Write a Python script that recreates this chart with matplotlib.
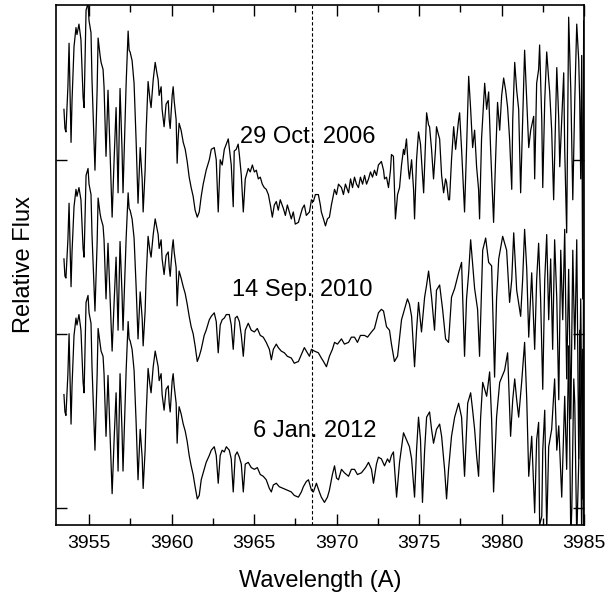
import numpy as np
import matplotlib.pyplot as plt

plt.rcParams['font.family'] = ['Liberation Sans', 'DejaVu Sans']

# blue side (3953.5 - 3961.4 A), same sampling for the three epochs
wave_blue = [3953.48, 3953.54, 3953.60, 3953.72, 3953.79, 3953.91, 3953.97, 3954.09, 3954.21, 3954.27,
             3954.39, 3954.51, 3954.64, 3954.70, 3954.82, 3954.94, 3955.00, 3955.12, 3955.18, 3955.30,
             3955.36, 3955.49, 3955.55, 3955.67, 3955.73, 3955.85, 3955.91, 3956.03, 3956.15, 3956.27,
             3956.40, 3956.52, 3956.64, 3956.76, 3956.88, 3957.00, 3957.06, 3957.19, 3957.25, 3957.37,
             3957.43, 3957.49, 3957.61, 3957.73, 3957.85, 3957.97, 3958.10, 3958.22, 3958.28, 3958.40,
             3958.46, 3958.58, 3958.70, 3958.76, 3958.89, 3959.01, 3959.13, 3959.19, 3959.25, 3959.37,
             3959.43, 3959.55, 3959.67, 3959.80, 3959.86, 3959.92, 3960.04, 3960.10, 3960.16, 3960.28,
             3960.34, 3960.40, 3960.46, 3960.58, 3960.71, 3960.83, 3960.95, 3961.07, 3961.19, 3961.31,
             3961.43]

flux_2006_blue = [0.69, 0.58, 0.56, 0.82, 1.07, 0.50, 0.74, 1.05, 1.16, 1.12,
                  1.18, 1.09, 0.76, 0.70, 1.26, 1.30, 1.20, 1.13, 0.86, 0.50,
                  0.34, 0.80, 1.10, 1.00, 0.96, 0.92, 0.82, 0.42, 0.80, 0.46,
                  0.07, 0.40, 0.70, 0.21, 0.81, 0.46, 0.21, 0.63, 0.84, 1.14,
                  1.03, 1.02, 0.97, 0.84, 0.52, 0.15, 0.47, 0.29, 0.10, 0.34,
                  0.56, 0.85, 0.74, 0.70, 0.86, 0.96, 0.89, 0.86, 0.77, 0.82,
                  0.69, 0.59, 0.72, 0.74, 0.63, 0.58, 0.77, 0.82, 0.74, 0.63,
                  0.38, 0.52, 0.61, 0.57, 0.50, 0.46, 0.39, 0.30, 0.24, 0.19,
                  0.11]

flux_2010_blue = [0.63, 0.53, 0.52, 0.74, 0.95, 0.47, 0.67, 0.93, 1.03, 0.99,
                  1.04, 0.97, 0.69, 0.64, 1.11, 1.15, 1.06, 1.00, 0.77, 0.47,
                  0.33, 0.72, 0.98, 0.89, 0.86, 0.82, 0.74, 0.40, 0.72, 0.43,
                  0.10, 0.38, 0.64, 0.22, 0.73, 0.43, 0.22, 0.58, 0.75, 1.01,
                  0.92, 0.91, 0.86, 0.75, 0.48, 0.17, 0.44, 0.29, 0.13, 0.33,
                  0.52, 0.76, 0.67, 0.64, 0.77, 0.86, 0.80, 0.77, 0.69, 0.74,
                  0.63, 0.54, 0.65, 0.67, 0.58, 0.53, 0.69, 0.74, 0.67, 0.58,
                  0.36, 0.48, 0.56, 0.52, 0.47, 0.43, 0.37, 0.30, 0.24, 0.20,
                  0.13]

flux_2012_blue = [0.65, 0.55, 0.53, 0.77, 1.00, 0.48, 0.70, 0.99, 1.09, 1.05,
                  1.11, 1.02, 0.72, 0.66, 1.18, 1.22, 1.12, 1.06, 0.81, 0.48,
                  0.33, 0.76, 1.03, 0.94, 0.90, 0.87, 0.77, 0.41, 0.76, 0.44,
                  0.08, 0.39, 0.66, 0.21, 0.77, 0.44, 0.21, 0.60, 0.79, 1.07,
                  0.97, 0.96, 0.91, 0.79, 0.50, 0.16, 0.45, 0.29, 0.11, 0.33,
                  0.53, 0.80, 0.70, 0.66, 0.81, 0.90, 0.84, 0.81, 0.73, 0.77,
                  0.65, 0.56, 0.68, 0.70, 0.60, 0.55, 0.73, 0.77, 0.70, 0.60,
                  0.37, 0.50, 0.58, 0.54, 0.48, 0.44, 0.38, 0.30, 0.24, 0.19,
                  0.12]

# red side, read separately for each epoch
wave_2006_red = [3961.56, 3961.68, 3961.80, 3961.92, 3962.10, 3962.29, 3962.41, 3962.59, 3962.71, 3962.83,
                 3962.95, 3963.07, 3963.20, 3963.32, 3963.44, 3963.50, 3963.62, 3963.74, 3963.80, 3963.92,
                 3964.04, 3964.11, 3964.23, 3964.35, 3964.47, 3964.65, 3964.77, 3964.90, 3965.02, 3965.14,
                 3965.26, 3965.38, 3965.50, 3965.62, 3965.74, 3965.87, 3965.99, 3966.11, 3966.23, 3966.35,
                 3966.47, 3966.59, 3966.78, 3966.90, 3967.02, 3967.14, 3967.26, 3967.38, 3967.50, 3967.69,
                 3967.81, 3967.93, 3968.05, 3968.17, 3968.36, 3968.48, 3968.60, 3968.72, 3968.90, 3969.02,
                 3969.08, 3969.21, 3969.33, 3969.45, 3969.57, 3969.69, 3969.88, 3970.00, 3970.12, 3970.30,
                 3970.42, 3970.54, 3970.73, 3970.85, 3970.97, 3971.09, 3971.21, 3971.33, 3971.45, 3971.58,
                 3971.70, 3971.82, 3971.94, 3972.06, 3972.18, 3972.30, 3972.42, 3972.54, 3972.72, 3972.85,
                 3972.91, 3973.03, 3973.15, 3973.27, 3973.33, 3973.45, 3973.57, 3973.70, 3973.82, 3973.94,
                 3974.06, 3974.12, 3974.24, 3974.36, 3974.42, 3974.55, 3974.67, 3974.73, 3974.85, 3974.97,
                 3975.09, 3975.15, 3975.28, 3975.40, 3975.46, 3975.58, 3975.64, 3975.76, 3975.88, 3976.00,
                 3976.06, 3976.19, 3976.25, 3976.37, 3976.49, 3976.61, 3976.67, 3976.79, 3976.85, 3976.97,
                 3977.10, 3977.22, 3977.28, 3977.40, 3977.46, 3977.58, 3977.76, 3977.88, 3978.01, 3978.13,
                 3978.25, 3978.37, 3978.49, 3978.61, 3978.67, 3978.79, 3978.92, 3978.98, 3979.10, 3979.22,
                 3979.34, 3979.52, 3979.64, 3979.76, 3979.89, 3980.01, 3980.13, 3980.25, 3980.37, 3980.49,
                 3980.62, 3980.68, 3980.80, 3980.92, 3981.04, 3981.10, 3981.16, 3981.28, 3981.40, 3981.53,
                 3981.65, 3981.77, 3981.95, 3982.01, 3982.13, 3982.25, 3982.31, 3982.44, 3982.50, 3982.62,
                 3982.74, 3982.86, 3982.92, 3983.04, 3983.16, 3983.29, 3983.35, 3983.47, 3983.53, 3983.65,
                 3983.77, 3983.83, 3983.95, 3984.01, 3984.07, 3984.20, 3984.32, 3984.44, 3984.56, 3984.68,
                 3984.74, 3984.80, 3984.86, 3984.92, 3984.98]
flux_2006_red = [0.07, 0.10, 0.19, 0.26, 0.34, 0.40, 0.46, 0.47, 0.40, 0.10,
                 0.40, 0.37, 0.46, 0.49, 0.52, 0.47, 0.37, 0.13, 0.45, 0.46,
                 0.49, 0.43, 0.31, 0.10, 0.29, 0.35, 0.33, 0.37, 0.33, 0.34,
                 0.29, 0.30, 0.26, 0.24, 0.23, 0.20, 0.14, 0.07, 0.14, 0.16,
                 0.11, 0.17, 0.12, 0.08, 0.14, 0.10, 0.06, 0.10, 0.03, 0.04,
                 0.08, 0.12, 0.14, 0.08, 0.10, 0.17, 0.16, 0.20, 0.20, 0.14,
                 0.10, 0.06, 0.02, 0.06, 0.07, 0.14, 0.23, 0.20, 0.26, 0.24,
                 0.20, 0.26, 0.21, 0.29, 0.24, 0.30, 0.26, 0.24, 0.30, 0.26,
                 0.31, 0.26, 0.29, 0.33, 0.30, 0.34, 0.31, 0.37, 0.39, 0.34,
                 0.29, 0.30, 0.24, 0.34, 0.43, 0.42, 0.06, 0.20, 0.24, 0.37,
                 0.46, 0.43, 0.52, 0.34, 0.29, 0.40, 0.23, 0.06, 0.40, 0.56,
                 0.49, 0.40, 0.21, 0.52, 0.67, 0.60, 0.59, 0.46, 0.29, 0.46,
                 0.59, 0.54, 0.52, 0.31, 0.21, 0.29, 0.27, 0.17, 0.17, 0.40,
                 0.59, 0.46, 0.52, 0.63, 0.67, 0.46, 0.10, 0.46, 0.88, 0.69,
                 0.47, 0.57, 0.36, 0.23, 0.06, 0.52, 0.74, 0.84, 0.69, 0.79,
                 0.46, 0.04, 0.40, 0.73, 0.57, 0.77, 0.87, 0.80, 0.70, 0.52,
                 0.23, 0.63, 0.96, 0.80, 0.69, 0.46, 0.21, 0.63, 1.03, 0.74,
                 0.47, 0.57, 0.65, 0.29, 0.84, 0.92, 1.06, 0.63, 0.24, 0.74,
                 1.02, 0.86, 0.79, 0.57, 0.17, 0.69, 0.93, 0.63, 0.36, 0.63,
                 0.90, 0.46, -0.02, 0.63, 1.22, 0.80, 0.17, 0.74, 1.18, 0.97,
                 0.74, 0.29, 1.00, -0.40, 1.20]

wave_2010_red = [3961.56, 3961.68, 3961.80, 3961.98, 3962.10, 3962.29, 3962.41, 3962.59, 3962.71, 3962.83,
                 3962.95, 3963.07, 3963.20, 3963.32, 3963.50, 3963.62, 3963.74, 3963.86, 3963.98, 3964.11,
                 3964.23, 3964.35, 3964.47, 3964.65, 3964.83, 3965.02, 3965.20, 3965.38, 3965.56, 3965.74,
                 3965.93, 3966.05, 3966.17, 3966.35, 3966.47, 3966.65, 3966.84, 3967.02, 3967.26, 3967.44,
                 3967.69, 3967.87, 3968.05, 3968.17, 3968.36, 3968.48, 3968.66, 3968.90, 3969.08, 3969.21,
                 3969.39, 3969.57, 3969.75, 3969.88, 3970.06, 3970.30, 3970.48, 3970.73, 3970.90, 3971.09,
                 3971.27, 3971.45, 3971.70, 3971.88, 3972.12, 3972.30, 3972.54, 3972.72, 3972.85, 3973.03,
                 3973.21, 3973.33, 3973.51, 3973.70, 3973.94, 3974.12, 3974.30, 3974.42, 3974.55, 3974.73,
                 3974.85, 3974.97, 3975.15, 3975.34, 3975.46, 3975.58, 3975.76, 3975.94, 3976.06, 3976.25,
                 3976.43, 3976.61, 3976.79, 3976.97, 3977.16, 3977.40, 3977.58, 3977.76, 3977.88, 3978.01,
                 3978.13, 3978.25, 3978.37, 3978.55, 3978.67, 3978.86, 3979.04, 3979.22, 3979.40, 3979.58,
                 3979.70, 3979.83, 3980.07, 3980.31, 3980.49, 3980.62, 3980.74, 3980.92, 3981.16, 3981.28,
                 3981.40, 3981.53, 3981.65, 3981.83, 3982.01, 3982.13, 3982.25, 3982.37, 3982.50, 3982.62,
                 3982.74, 3982.86, 3982.98, 3983.10, 3983.22, 3983.35, 3983.47, 3983.59, 3983.71, 3983.83,
                 3983.95, 3984.07, 3984.20, 3984.32, 3984.44, 3984.56, 3984.68, 3984.80, 3984.92, 3984.98]
flux_2010_red = [0.04, 0.07, 0.11, 0.19, 0.22, 0.28, 0.30, 0.32, 0.27, 0.09,
                 0.25, 0.28, 0.29, 0.31, 0.31, 0.25, 0.11, 0.29, 0.30, 0.27,
                 0.19, 0.07, 0.22, 0.26, 0.22, 0.21, 0.23, 0.19, 0.18, 0.15,
                 0.11, 0.05, 0.11, 0.14, 0.12, 0.10, 0.09, 0.07, 0.06, 0.03,
                 0.04, 0.08, 0.12, 0.10, 0.07, 0.11, 0.10, 0.09, 0.06, 0.04,
                 0.01, 0.07, 0.11, 0.15, 0.14, 0.17, 0.14, 0.15, 0.18, 0.18,
                 0.15, 0.19, 0.19, 0.18, 0.21, 0.23, 0.32, 0.34, 0.33, 0.24,
                 0.22, 0.14, 0.04, 0.07, 0.28, 0.34, 0.40, 0.37, 0.30, 0.01,
                 0.22, 0.38, 0.21, 0.41, 0.48, 0.56, 0.41, 0.22, 0.45, 0.48,
                 0.34, 0.17, 0.15, 0.41, 0.46, 0.55, 0.61, 0.07, 0.40, 0.55,
                 0.74, 0.60, 0.46, 0.34, 0.07, 0.68, 0.75, 0.61, 0.59, -0.05,
                 0.40, 0.63, 0.76, 0.68, 0.38, 0.51, 0.78, 0.45, 0.30, 0.51,
                 0.80, 0.57, 0.18, 0.55, 0.11, 0.51, 0.72, 0.40, -0.12, 0.51,
                 0.77, 0.28, 0.63, 0.11, 0.74, 0.40, -0.18, 0.68, 0.28, 0.80,
                 -0.06, 0.57, -0.29, 0.68, 0.11, 0.74, -0.52, 0.40, -0.75, 0.68]

wave_2012_red = [3961.56, 3961.68, 3961.80, 3961.98, 3962.10, 3962.29, 3962.41, 3962.59, 3962.71, 3962.83,
                 3962.95, 3963.07, 3963.20, 3963.32, 3963.50, 3963.62, 3963.74, 3963.86, 3963.98, 3964.11,
                 3964.23, 3964.35, 3964.47, 3964.65, 3964.83, 3965.02, 3965.20, 3965.38, 3965.56, 3965.74,
                 3965.93, 3966.05, 3966.17, 3966.35, 3966.53, 3966.78, 3967.02, 3967.26, 3967.44, 3967.69,
                 3967.87, 3967.99, 3968.17, 3968.30, 3968.48, 3968.60, 3968.78, 3968.96, 3969.08, 3969.27,
                 3969.45, 3969.57, 3969.75, 3969.88, 3970.00, 3970.12, 3970.30, 3970.48, 3970.73, 3970.90,
                 3971.09, 3971.27, 3971.51, 3971.76, 3971.94, 3972.12, 3972.24, 3972.42, 3972.54, 3972.72,
                 3972.91, 3973.09, 3973.21, 3973.33, 3973.45, 3973.64, 3973.82, 3974.06, 3974.24, 3974.42,
                 3974.55, 3974.73, 3974.85, 3974.97, 3975.09, 3975.21, 3975.34, 3975.46, 3975.64, 3975.76,
                 3975.88, 3976.06, 3976.25, 3976.37, 3976.55, 3976.67, 3976.79, 3976.97, 3977.16, 3977.40,
                 3977.58, 3977.76, 3977.95, 3978.13, 3978.25, 3978.37, 3978.49, 3978.61, 3978.73, 3978.86,
                 3979.10, 3979.28, 3979.40, 3979.52, 3979.70, 3979.89, 3980.19, 3980.37, 3980.55, 3980.68,
                 3980.80, 3980.92, 3981.04, 3981.22, 3981.40, 3981.53, 3981.65, 3981.83, 3982.01, 3982.13,
                 3982.25, 3982.31, 3982.44, 3982.50, 3982.62, 3982.74, 3982.86, 3983.04, 3983.22, 3983.35,
                 3983.47, 3983.65, 3983.83, 3983.95, 3984.07, 3984.20, 3984.26, 3984.38, 3984.44, 3984.56,
                 3984.68, 3984.74, 3984.86, 3984.92, 3984.98]
flux_2012_red = [0.05, 0.07, 0.16, 0.22, 0.26, 0.30, 0.33, 0.35, 0.30, 0.14,
                 0.30, 0.33, 0.32, 0.35, 0.33, 0.28, 0.09, 0.30, 0.32, 0.29,
                 0.25, 0.09, 0.25, 0.26, 0.23, 0.22, 0.23, 0.19, 0.18, 0.16,
                 0.11, 0.09, 0.13, 0.14, 0.12, 0.11, 0.10, 0.09, 0.07, 0.06,
                 0.09, 0.12, 0.15, 0.16, 0.10, 0.09, 0.14, 0.09, 0.06, 0.03,
                 0.06, 0.10, 0.19, 0.24, 0.17, 0.16, 0.22, 0.20, 0.18, 0.22,
                 0.22, 0.19, 0.20, 0.23, 0.26, 0.22, 0.14, 0.25, 0.29, 0.28,
                 0.24, 0.28, 0.26, 0.30, 0.32, 0.06, 0.26, 0.43, 0.39, 0.35,
                 0.28, 0.06, 0.33, 0.52, 0.39, 0.03, 0.33, 0.52, 0.55, 0.45,
                 0.37, 0.45, 0.48, 0.41, 0.22, 0.05, 0.22, 0.41, 0.52, 0.60,
                 0.52, 0.18, 0.60, 0.66, 0.56, 0.45, 0.30, 0.18, 0.51, 0.72,
                 0.64, 0.78, 0.51, 0.09, 0.52, 0.72, 0.79, 0.89, 0.41, 0.62,
                 0.74, 0.62, 0.52, 0.72, 0.95, 0.62, 0.18, 0.41, -0.03, 0.39,
                 0.49, -0.10, -0.05, 0.33, 0.56, -0.13, 0.35, 0.45, 0.74, 0.33,
                 0.47, 0.06, 0.64, 0.22, 0.93, -0.18, -0.01, 0.74, 0.60, -0.18,
                 0.26, 1.02, -0.18, 0.91, -0.18]

dates = ['29 Oct. 2006', '14 Sep. 2010', '6 Jan. 2012']
offsets = [1.6, 0.8, 0.0]
ca_h = 3968.5

spectra = [
    (wave_blue + wave_2006_red, flux_2006_blue + flux_2006_red),
    (wave_blue + wave_2010_red, flux_2010_blue + flux_2010_red),
    (wave_blue + wave_2012_red, flux_2012_blue + flux_2012_red),
]
label_xy = [(3968.25, 2.13), (3967.9, 1.25), (3968.7, 0.44)]

fig = plt.figure(figsize=(6.13, 5.94), dpi=100)
ax = fig.add_axes([0.0914, 0.1162, 0.8613, 0.8754])

for (w, f), off, d, (tx, ty) in zip(spectra, offsets, dates, label_xy):
    ax.plot(w, np.array(f) + off, color='black', lw=0.9)
    ax.text(tx, ty, d, ha='center', va='center', fontsize=17)

ax.axvline(ca_h, color='black', lw=0.8, ls=(0, (3, 2)))

ax.set_xlim(3953.0, 3985.0)
ax.set_ylim(-0.1, 2.89)
ax.set_xticks(np.arange(3955, 3986, 5))
ax.set_xticks(np.arange(3957.5, 3985, 5), minor=True)
ax.set_yticks([0, 1, 2])
ax.set_yticklabels([])
ax.tick_params(which='both', direction='in', top=True, right=True, width=1.0)
ax.tick_params(which='major', length=8, labelsize=14, pad=7)
ax.tick_params(which='minor', length=5)
for s in ax.spines.values():
    s.set_linewidth(1.2)

ax.set_xlabel('Wavelength (A)', fontsize=17, labelpad=13)
ax.set_ylabel('Relative Flux', fontsize=17, labelpad=8)

fig.savefig('out.png', dpi=100)
